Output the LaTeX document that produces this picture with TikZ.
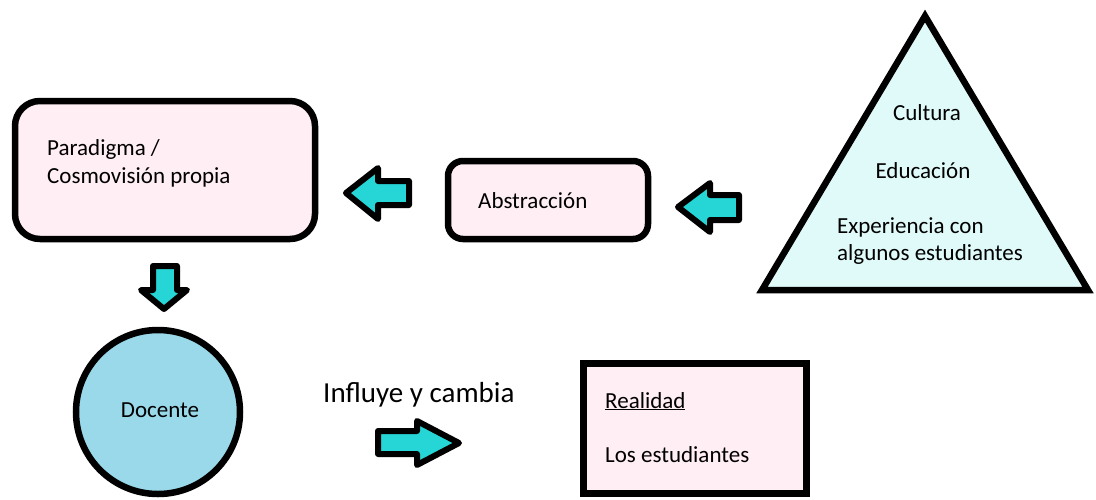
\documentclass[tikz,border=0pt]{standalone}
\usepackage{fontspec}
\setmainfont{Carlito}
\definecolor{boxpink}{RGB}{255,238,244}
\definecolor{tripale}{RGB}{224,250,250}
\definecolor{docblue}{RGB}{153,217,234}
\definecolor{arrcyan}{RGB}{38,214,214}
\begin{document}
\begin{tikzpicture}[x=1pt, y=-1pt,
    box/.style={draw, line width=6.5pt, fill=boxpink, inner sep=0pt},
    blockarrow/.style={draw, line width=6pt, fill=arrcyan, line join=round},
    lbl/.style={font=\fontsize{23}{28}\selectfont, inner sep=0pt, anchor=base west}]
    \useasboundingbox (0,0) rectangle (1096,499);

    % boxes
    \node[box, rounded corners=25pt, minimum width=300pt, minimum height=138pt] (paradigma) at (165,170) {};
    \node[box, rounded corners=15pt, minimum width=200pt, minimum height=78pt] (abstraccion) at (548,200) {};
    \node[box, line width=7pt, minimum width=223pt, minimum height=130pt] (realidad) at (695,428.5) {};
    \node[draw, circle, line width=6.5pt, fill=docblue, minimum size=164pt, inner sep=0pt] (docente) at (158,412) {};

    \coordinate (T1) at (925,16);
    \coordinate (T2) at (762,290);
    \coordinate (T3) at (1088,290);
    \draw[line width=6.5pt, fill=tripale] (T1) -- (T2) -- (T3) -- cycle;

    % arrows
    \draw[blockarrow] (346,193) -- (378,168) -- (378,181) -- (409,181) -- (409,205) -- (378,205) -- (378,219) -- cycle;
    \draw[blockarrow] (678,207) -- (710,183) -- (710,195) -- (739,195) -- (739,220) -- (710,220) -- (710,232) -- cycle;
    \draw[blockarrow] (164,309) -- (141,290) -- (153,290) -- (153,266) -- (177,266) -- (177,290) -- (187,290) -- cycle;
    \draw[blockarrow] (459,443) -- (417,421) -- (417,431) -- (378,431) -- (378,454) -- (417,454) -- (417,465) -- cycle;

    % texts
    \node[lbl] (p1) at (47,155) {Paradigma /};
    \node[lbl] (p2) at (47,183) {Cosmovisión propia};
    \node[lbl] (a1) at (478,208) {Abstracción};
    \node[lbl, anchor=base] (c1) at (927,120) {Cultura};
    \node[lbl, anchor=base] (c2) at (923,178) {Educación};
    \node[lbl] (c3) at (837,233) {Experiencia con};
    \node[lbl] (c4) at (837,260) {algunos estudiantes};
    \node[lbl, anchor=base] (d1) at (160,417) {Docente};
    \node[lbl, font=\fontsize{29}{34}\selectfont] (i1) at (323,402) {Influye y cambia};
    \node[lbl] (r1) at (605,408) {\underline{Realidad}};
    \node[lbl] (r2) at (605,462) {Los estudiantes};

\end{tikzpicture}
\end{document}
